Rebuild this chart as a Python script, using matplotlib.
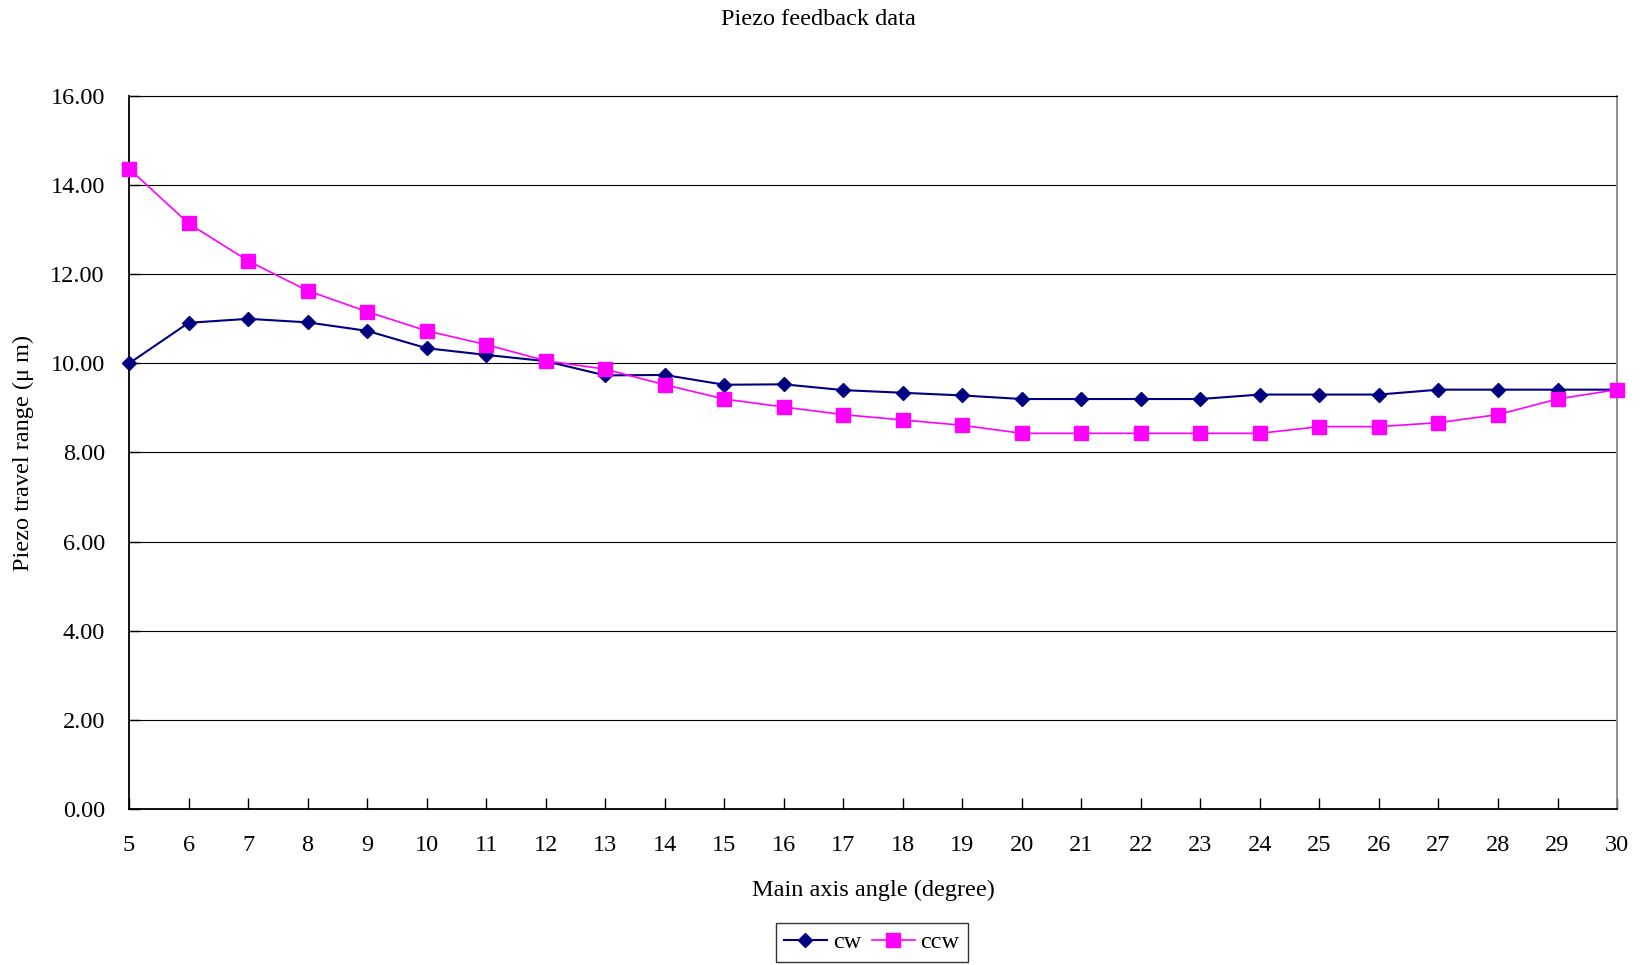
import numpy as np
import matplotlib
matplotlib.use('Agg')
import matplotlib.pyplot as plt

plt.rcParams['font.family'] = ['Liberation Serif', 'DejaVu Serif']

# main axis angle, degree
angle = list(range(5, 31))
cw = [10.00, 10.91, 11.00, 10.92, 10.73, 10.34, 10.19, 10.05, 9.73, 9.74,
      9.52, 9.53, 9.40, 9.34, 9.28, 9.20, 9.20, 9.20, 9.20, 9.30,
      9.30, 9.30, 9.41, 9.41, 9.41, 9.41]
ccw = [14.37, 13.14, 12.30, 11.63, 11.16, 10.73, 10.42, 10.06, 9.87, 9.52,
       9.20, 9.02, 8.85, 8.73, 8.61, 8.43, 8.43, 8.43, 8.43, 8.43,
       8.58, 8.58, 8.67, 8.85, 9.20, 9.41]

FS = 17.5

fig = plt.figure(figsize=(16.42, 9.65), dpi=100)
ax = fig.add_axes([0.0786, 0.1617, 0.9062, 0.7388])

ax.plot(angle, cw, '-D', color='#000080', lw=1.5, ms=7, label='cw', clip_on=False, zorder=3)
ax.plot(angle, ccw, '-s', color='#FF00FF', lw=1.2, ms=9.5, label='ccw', clip_on=False, zorder=4)

ax.set_xlim(5, 30)
ax.set_ylim(0, 16)
ax.set_xticks(angle)
ax.set_yticks(np.arange(0, 16.1, 2))
ax.yaxis.set_major_formatter(matplotlib.ticker.FormatStrFormatter('%.2f'))
ax.grid(True, axis='y', color='black', lw=0.8)
ax.set_axisbelow(True)
ax.tick_params(direction='in', length=8, labelsize=FS, width=1)
ax.tick_params(axis='x', pad=19)
ax.tick_params(axis='y', pad=17.5)

for s in ['left', 'bottom']:
    ax.spines[s].set_linewidth(1.3)
ax.spines['top'].set_linewidth(0.8)
ax.spines['right'].set_color('#888888')
ax.spines['right'].set_linewidth(1.3)

ax.set_xlabel('Main axis angle (degree)', fontsize=FS, labelpad=17)
ax.set_ylabel('Piezo travel range (μ m)', fontsize=FS, labelpad=12)
fig.text(0.4985, 0.980, 'Piezo feedback data', ha='center', va='center', fontsize=FS)

leg = fig.legend(loc='center', bbox_to_anchor=(0.531, 0.0235), ncol=2, fontsize=FS,
                 frameon=True, fancybox=False, edgecolor='black',
                 handlelength=1.75, columnspacing=0.45, handletextpad=0.25,
                 borderpad=0.35, borderaxespad=0.3)
leg.get_frame().set_linewidth(1.0)

fig.savefig('out.png', dpi=100)
